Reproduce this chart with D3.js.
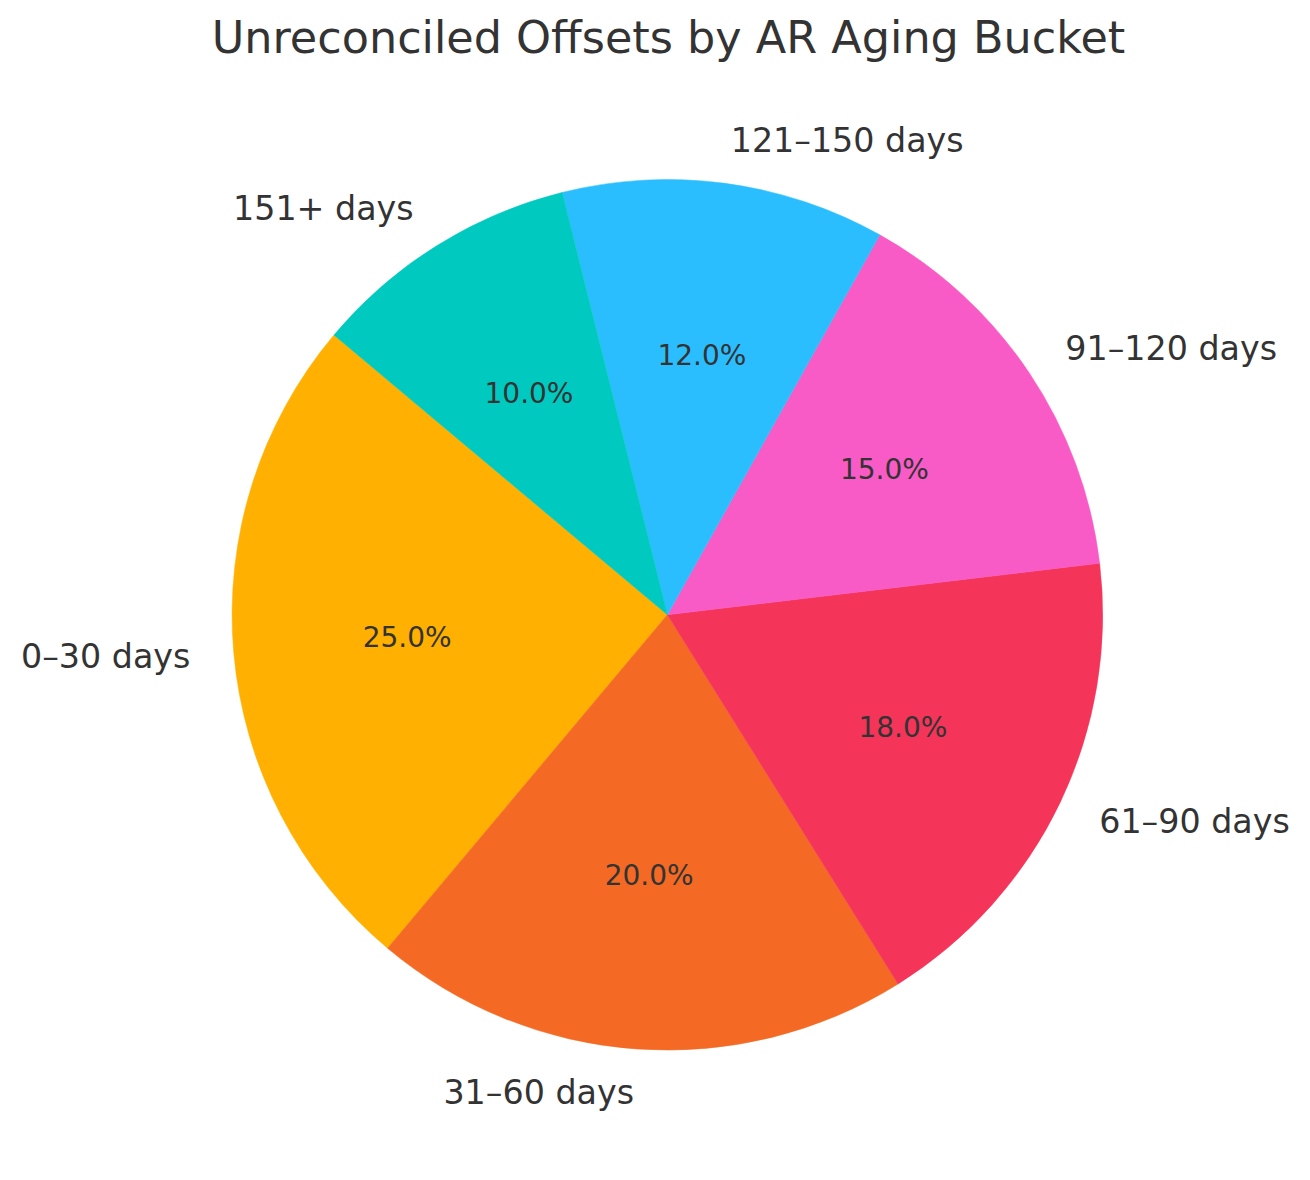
<!DOCTYPE html>
<html>
<head>
<meta charset="utf-8">
<script src="https://cdn.jsdelivr.net/npm/d3@7"></script>
<style>
  html, body { margin: 0; padding: 0; background: #ffffff; }
  svg { display: block; }
  text { font-family: "DejaVu Sans", sans-serif; fill: #333333; }
</style>
</head>
<body>
<svg id="chart" width="1310" height="1180"></svg>
<script>
const categories = ["0–30 days", "31–60 days", "61–90 days", "91–120 days", "121–150 days", "151+ days"];
const values = [25, 20, 18, 15, 12, 10];
const colors = ["#FFB000", "#F46A24", "#F5345A", "#F95BC6", "#2BBEFE", "#00C9BF"];
const title = "Unreconciled Offsets by AR Aging Bucket";

const W = 1310, H = 1180;
const cx = 667.4, cy = 614.8, R = 435.3;
const startDeg = 140; // matplotlib startangle, counterclockwise

const svg = d3.select("#chart");

svg.append("text")
  .attr("x", 668.5)
  .attr("y", 53)
  .attr("text-anchor", "middle")
  .style("font-size", "44.5px")
  .text(title);

const data = categories.map((c, i) => ({ label: c, value: values[i], color: colors[i] }));

const toRad = d => d * Math.PI / 180;
const pie = d3.pie()
  .sort(null)
  .value(d => d.value)
  .startAngle(toRad(90 - startDeg))
  .endAngle(toRad(90 - startDeg - 360));

const arcs = pie(data);
const arc = d3.arc().innerRadius(0).outerRadius(R);

const g = svg.append("g").attr("transform", `translate(${cx},${cy})`);

g.selectAll("path.slice")
  .data(arcs)
  .join("path")
  .attr("class", "slice")
  .attr("d", arc)
  .attr("fill", d => d.data.color)
  .attr("stroke", d => d.data.color)
  .attr("stroke-width", 0.5);

const total = d3.sum(values);
const mid = d => (d.startAngle + d.endAngle) / 2;

// outer labels at 1.1 r
g.selectAll("text.lbl")
  .data(arcs)
  .join("text")
  .attr("class", "lbl")
  .attr("x", d => 1.1 * R * Math.sin(mid(d)))
  .attr("y", d => -1.1 * R * Math.cos(mid(d)))
  .attr("text-anchor", d => Math.sin(mid(d)) > 0 ? "start" : "end")
  .attr("dominant-baseline", "central")
  .style("font-size", "33.3px")
  .text(d => d.data.label);

// percentage labels at 0.6 r
g.selectAll("text.pct")
  .data(arcs)
  .join("text")
  .attr("class", "pct")
  .attr("x", d => 0.6 * R * Math.sin(mid(d)))
  .attr("y", d => -0.6 * R * Math.cos(mid(d)))
  .attr("text-anchor", "middle")
  .attr("dominant-baseline", "central")
  .style("font-size", "28px")
  .text(d => (d.data.value / total * 100).toFixed(1) + "%");
</script>
</body>
</html>
